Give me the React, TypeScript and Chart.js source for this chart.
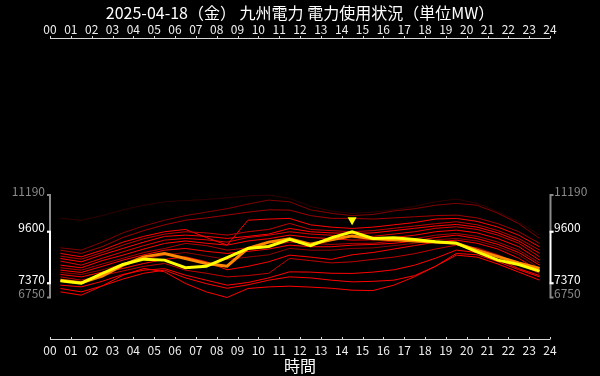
import React, { useEffect, useRef } from 'react';
import { Chart, registerables } from 'chart.js';

Chart.register(...registerables);

const FONT = '"Noto Sans CJK JP", "Noto Sans", sans-serif';
const TITLE = '2025-04-18（金） 九州電力 電力使用状況（単位MW）';
const X_TITLE = '時間';

const HOUR_LABELS = ['00', '01', '02', '03', '04', '05', '06', '07', '08', '09', '10', '11', '12', '13', '14', '15', '16', '17', '18', '19', '20', '21', '22', '23', '24'];
const HOURS = [0.5, 1.5, 2.5, 3.5, 4.5, 5.5, 6.5, 7.5, 8.5, 9.5, 10.5, 11.5, 12.5, 13.5, 14.5, 15.5, 16.5, 17.5, 18.5, 19.5, 20.5, 21.5, 22.5, 23.5];

// today (yellow)
const TODAY = [7470, 7370, 7790, 8182, 8412, 8370, 8040, 8100, 8480, 8877, 8960, 9267, 9000, 9337, 9600, 9310, 9337, 9267, 9163, 9107, 8730, 8369, 8182, 7891];
// yesterday (orange)
const YESTERDAY = [7500, 7385, 7674, 8152, 8512, 8660, 8443, 8225, 8108, 8880, 9150, 9290, 9060, 9250, 9420, 9300, 9250, 9200, 9150, 9100, 8800, 8520, 8250, 8008];

// earlier days (red shades)
const D1 = [10180, 10100, 10300, 10550, 10750, 10900, 10950, 11000, 11073, 11150, 11190, 11045, 10700, 10500, 10395, 10450, 10550, 10700, 10900, 11016, 10830, 10466, 10032, 9454];
const D2 = [8903, 8803, 9150, 9550, 9850, 10100, 10300, 10450, 10600, 10800, 10973, 10900, 10550, 10400, 10300, 10350, 10500, 10600, 10750, 10830, 10750, 10400, 9950, 9310];
const D3 = [8800, 8660, 8950, 9350, 9650, 9900, 10100, 10200, 10322, 10450, 10550, 10539, 10300, 10180, 10178, 10150, 10200, 10250, 10300, 10322, 10200, 9950, 9600, 9094];
const D4 = [8660, 8512, 8800, 9150, 9400, 9600, 9700, 9350, 9020, 10100, 10150, 10178, 9900, 9800, 9744, 9800, 9900, 10000, 10150, 10178, 10050, 9800, 9450, 8946];
const D5 = [8543, 8412, 8700, 9020, 9300, 9500, 9600, 9550, 9454, 9600, 9700, 9961, 9700, 9650, 9600, 9650, 9750, 9850, 9950, 10033, 9900, 9650, 9300, 8803];
const D6 = [8440, 8297, 8600, 8877, 9150, 9400, 9454, 9400, 9310, 9400, 9500, 9744, 9600, 9550, 9526, 9550, 9650, 9750, 9850, 9918, 9800, 9550, 9200, 8660];
const D7 = [8326, 8152, 8450, 8730, 9000, 9237, 9310, 9250, 9150, 9350, 9450, 9600, 9500, 9450, 9381, 9400, 9500, 9600, 9750, 9816, 9700, 9450, 9100, 8512];
const D8 = [8152, 8037, 8350, 8586, 8850, 9094, 9200, 9100, 9020, 9200, 9300, 9454, 9350, 9300, 9237, 9250, 9350, 9450, 9600, 9671, 9550, 9300, 8950, 8369];
const D9 = [8040, 7935, 8200, 8450, 8700, 8877, 9094, 9000, 8803, 8900, 9000, 9150, 9100, 9050, 9094, 9100, 9200, 9300, 9450, 9527, 9400, 9150, 8800, 8250];
const D10 = [7935, 7835, 8100, 8369, 8600, 8800, 8877, 8750, 8660, 8750, 8850, 9020, 8950, 8950, 9020, 9050, 9100, 9200, 9350, 9454, 9300, 9050, 8700, 8152];
const D11 = [7835, 7748, 7950, 8200, 8400, 8600, 8700, 8550, 8400, 8500, 8600, 8877, 8800, 8800, 8877, 8900, 9000, 9100, 9250, 9310, 9200, 8950, 8600, 8008];
const D12 = [7748, 7644, 7850, 8008, 8225, 8400, 8512, 8300, 7950, 8100, 8300, 8586, 8500, 8400, 8600, 8700, 8850, 9000, 9150, 9237, 9100, 8850, 8450, 7900];
const D13 = [7644, 7500, 7700, 7900, 8100, 8225, 7935, 7800, 7644, 7700, 7800, 8443, 8350, 8250, 8297, 8400, 8500, 8650, 8850, 9020, 8900, 8600, 8200, 7792];
const D14 = [7284, 7210, 7450, 7748, 7935, 8000, 7718, 7500, 7284, 7400, 7600, 7862, 7850, 7800, 7792, 7850, 7950, 8150, 8450, 8803, 8700, 8400, 8000, 7700];
const D15 = [7140, 6993, 7250, 7550, 7800, 7935, 7600, 7350, 7150, 7300, 7500, 7644, 7600, 7500, 7427, 7450, 7500, 7700, 8100, 8660, 8600, 8300, 7950, 7644];
const D16 = [6993, 6850, 7250, 7718, 8008, 7862, 7357, 6993, 6750, 7140, 7210, 7240, 7200, 7150, 7066, 7050, 7284, 7650, 8100, 8586, 8500, 8200, 7850, 7501];

const PAST = [D1, D2, D3, D4, D5, D6, D7, D8, D9, D10, D11, D12, D13, D14, D15, D16];
const PAST_COLORS = ['#300000', '#800000', '#a00000', '#ff0000', '#c00000', '#ff0000', '#e00000', '#ff0000', '#b00000', '#ff0000', '#900000', '#ff0000', '#c00000', '#ff0000', '#ff0000', '#ff0000'];

const Y_MIN = 4950;
const Y_MAX = 18000;

const toPoints = (arr: number[]) => HOURS.map((h, i) => ({ x: h, y: arr[i] }));

export default function App() {
  const ref = useRef<HTMLCanvasElement | null>(null);

  useEffect(() => {
    document.body.style.margin = '0';
    document.body.style.background = '#000';
    const canvas = ref.current;
    if (!canvas) return;

    const all = [...PAST.flat(), ...YESTERDAY, ...TODAY];
    const allMax = Math.max(...all);
    const allMin = Math.min(...all);
    const todayMax = Math.max(...TODAY);
    const todayMin = Math.min(...TODAY);
    const yTicks = [allMin, todayMin, todayMax, allMax];
    const isToday = (v: number) => v === todayMin || v === todayMax;

    const datasets: any[] = [
      { data: toPoints(TODAY), borderColor: '#ffff00', borderWidth: 3, order: 0 },
      { data: toPoints(YESTERDAY), borderColor: '#ff8800', borderWidth: 3, order: 1 },
      ...PAST.map((d, i) => ({ data: toPoints(d), borderColor: PAST_COLORS[i], borderWidth: 1, order: 2 + (PAST.length - i) })),
    ].map((d) => ({ ...d, pointRadius: 0, tension: 0, xAxisID: 'x', yAxisID: 'y', fill: false }));

    const bg = {
      id: 'bg',
      beforeDraw(c: any) {
        const ctx = c.ctx;
        ctx.save();
        ctx.fillStyle = '#000';
        ctx.fillRect(0, 0, c.width, c.height);
        ctx.restore();
      },
    };

    const axes = {
      id: 'axes',
      afterDraw(c: any) {
        const ctx = c.ctx;
        const { top, bottom, left, right } = c.chartArea;
        const xs = c.scales.x;
        ctx.save();
        ctx.strokeStyle = '#d8d8d8';
        ctx.lineWidth = 1;
        const yt = Math.round(top) + 0.5;
        const yb = Math.round(bottom) + 0.5;
        ctx.beginPath();
        ctx.moveTo(left, yt);
        ctx.lineTo(right, yt);
        ctx.moveTo(left, yb);
        ctx.lineTo(right, yb);
        for (let i = 0; i < HOUR_LABELS.length; i++) {
          const px = Math.round(xs.getPixelForValue(i)) + 0.5;
          ctx.moveTo(px, yt);
          ctx.lineTo(px, yt - 2.5);
          ctx.moveTo(px, yb);
          ctx.lineTo(px, yb - 2.5);
        }
        ctx.stroke();

        // y brackets
        const ys = c.scales.y;
        const seg = (x: number, v1: number, v2: number, color: string, dir: number) => {
          const p1 = ys.getPixelForValue(v1);
          const p2 = ys.getPixelForValue(v2);
          ctx.strokeStyle = color;
          ctx.lineWidth = 2;
          ctx.beginPath();
          ctx.moveTo(x + dir * 3, p1);
          ctx.lineTo(x, p1);
          ctx.lineTo(x, p2);
          ctx.lineTo(x + dir * 3, p2);
          ctx.stroke();
        };
        [[left, -1], [right + 0.5, 1]].forEach(([x, dir]) => {
          seg(x, allMax, todayMax, '#8a8a8a', dir);
          seg(x, allMin, todayMin, '#8a8a8a', dir);
          seg(x, todayMax, todayMin, '#ffffff', dir);
        });

        // peak marker
        let idx = 0;
        TODAY.forEach((v, i) => { if (v > TODAY[idx]) idx = i; });
        const mx = xs.getPixelForValue(HOURS[idx]);
        const my = ys.getPixelForValue(TODAY[idx]);
        ctx.fillStyle = '#ffff00';
        ctx.beginPath();
        ctx.moveTo(mx - 4.5, my - 14.5);
        ctx.lineTo(mx + 4.5, my - 14.5);
        ctx.lineTo(mx, my - 6.5);
        ctx.closePath();
        ctx.fill();
        ctx.restore();
      },
    };

    const xTicksBuild = (s: any) => {
      s.ticks = HOUR_LABELS.map((_, i) => ({ value: i }));
    };
    const yTicksBuild = (s: any) => {
      s.ticks = yTicks.map((v) => ({ value: v }));
    };
    const tickColor = (ctx: any) => (isToday(ctx.tick.value) ? '#ffffff' : '#8a8a8a');
    const yLabel = (v: any) => String(v);

    const chart = new Chart(canvas, {
      type: 'line',
      data: { datasets },
      options: {
        animation: false,
        responsive: false,
        maintainAspectRatio: false,
        layout: { padding: 0 },
        plugins: {
          legend: { display: false },
          tooltip: { enabled: false },
          title: {
            display: true,
            text: TITLE,
            color: '#ffffff',
            font: { family: FONT, size: 16, weight: 'normal' },
            padding: { top: 3, bottom: 0 },
          },
        },
        scales: {
          x: {
            type: 'linear',
            position: 'bottom',
            min: 0,
            max: 24,
            afterBuildTicks: xTicksBuild,
            ticks: {
              autoSkip: false,
              maxRotation: 0,
              color: '#eeeeee',
              padding: 4,
              font: { family: FONT, size: 12 },
              callback: (v: any) => HOUR_LABELS[v],
            },
            grid: { display: false, drawTicks: false },
            border: { display: false },
            title: { display: true, text: X_TITLE, color: '#ffffff', font: { family: FONT, size: 16 }, padding: 0 },
            afterFit: (s: any) => { s.height = 37; },
          },
          xTop: {
            type: 'linear',
            position: 'top',
            min: 0,
            max: 24,
            afterBuildTicks: xTicksBuild,
            ticks: {
              autoSkip: false,
              maxRotation: 0,
              color: '#eeeeee',
              padding: 1,
              font: { family: FONT, size: 12 },
              callback: (v: any) => HOUR_LABELS[v],
            },
            grid: { display: false, drawTicks: false },
            border: { display: false },
            afterFit: (s: any) => { s.height = 15.8; },
          },
          y: {
            type: 'linear',
            position: 'left',
            min: Y_MIN,
            max: Y_MAX,
            afterBuildTicks: yTicksBuild,
            ticks: { color: tickColor, padding: 5, labelOffset: -4, font: { family: FONT, size: 12 }, callback: yLabel },
            grid: { display: false, drawTicks: false },
            border: { display: false },
            afterFit: (s: any) => { s.width = 50; },
          },
          y2: {
            type: 'linear',
            position: 'right',
            min: Y_MIN,
            max: Y_MAX,
            afterBuildTicks: yTicksBuild,
            ticks: { color: tickColor, padding: 4, labelOffset: -4, font: { family: FONT, size: 12 }, callback: yLabel },
            grid: { display: false, drawTicks: false },
            border: { display: false },
            afterFit: (s: any) => { s.width = 50; },
          },
        },
      },
      plugins: [bg, axes],
    } as any);

    return () => chart.destroy();
  }, []);

  return (
    <div style={{ width: 600, height: 376, background: '#000' }}>
      <canvas ref={ref} width={600} height={376} style={{ display: 'block', width: 600, height: 376 }} />
    </div>
  );
}
